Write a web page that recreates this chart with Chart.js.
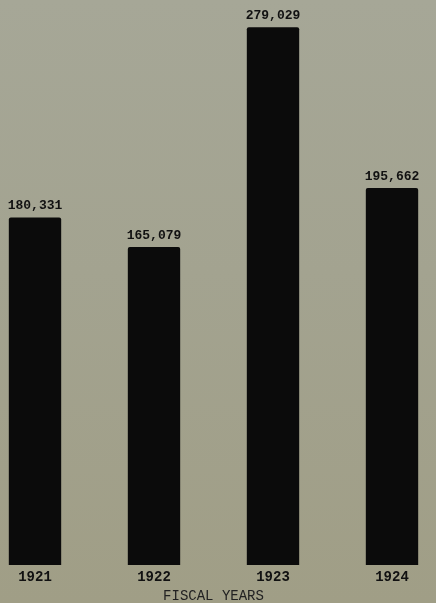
<!DOCTYPE html>
<html>
<head>
<meta charset="utf-8">
<script src="https://cdn.jsdelivr.net/npm/chart.js@4/dist/chart.umd.min.js"></script>
<style>
  html, body { margin: 0; padding: 0; }
  body {
    width: 436px; height: 603px; overflow: hidden;
    background: linear-gradient(180deg, #a6a797 0%, #a3a390 45%, #a09e86 100%);
  }
  #chart { display: block; }
</style>
</head>
<body>
<canvas id="chart" width="436" height="603"></canvas>
<script>
// fiscal years and totals
const years = ['1921', '1922', '1923', '1924'];
const totals = [180331, 165079, 279029, 195662];
const totalLabels = ['180,331', '165,079', '279,029', '195,662'];

// typed numbers above each bar
const valueLabels = {
  id: 'valueLabels',
  afterDatasetsDraw(chart) {
    const ctx = chart.ctx;
    const meta = chart.getDatasetMeta(0);
    ctx.save();
    ctx.fillStyle = '#111';
    ctx.font = 'bold 13px "Liberation Mono", "DejaVu Sans Mono", monospace';
    ctx.textAlign = 'center';
    ctx.textBaseline = 'bottom';
    meta.data.forEach(function (bar, i) {
      ctx.fillText(totalLabels[i], bar.x, bar.y - 5);
    });
    ctx.restore();
  }
};

const ctx = document.getElementById('chart').getContext('2d');
new Chart(ctx, {
  type: 'bar',
  data: {
    labels: years,
    datasets: [{
      data: totals,
      backgroundColor: '#0b0b0b',
      borderRadius: 2,
      barPercentage: 1,
      categoryPercentage: 0.44,
      clip: false
    }]
  },
  options: {
    responsive: false,
    animation: false,
    devicePixelRatio: 1,
    layout: { padding: { left: 35, right: 44, top: 10, bottom: 0 } },
    plugins: { legend: { display: false }, tooltip: { enabled: false } },
    scales: {
      x: {
        offset: false,
        grid: { display: false, drawTicks: false },
        border: { display: false },
        ticks: {
          color: '#111',
          padding: 5,
          maxRotation: 0,
          font: { family: '"Liberation Mono", monospace', size: 14, weight: 'bold', lineHeight: 1 }
        },
        title: {
          display: true,
          text: 'FISCAL YEARS',
          color: '#222',
          padding: { top: 0, bottom: 0 },
          font: { family: '"Liberation Mono", monospace', size: 14, lineHeight: 1 }
        }
      },
      y: {
        display: false,
        min: 0,
        max: 288000
      }
    }
  },
  plugins: [valueLabels]
});
</script>
</body>
</html>
